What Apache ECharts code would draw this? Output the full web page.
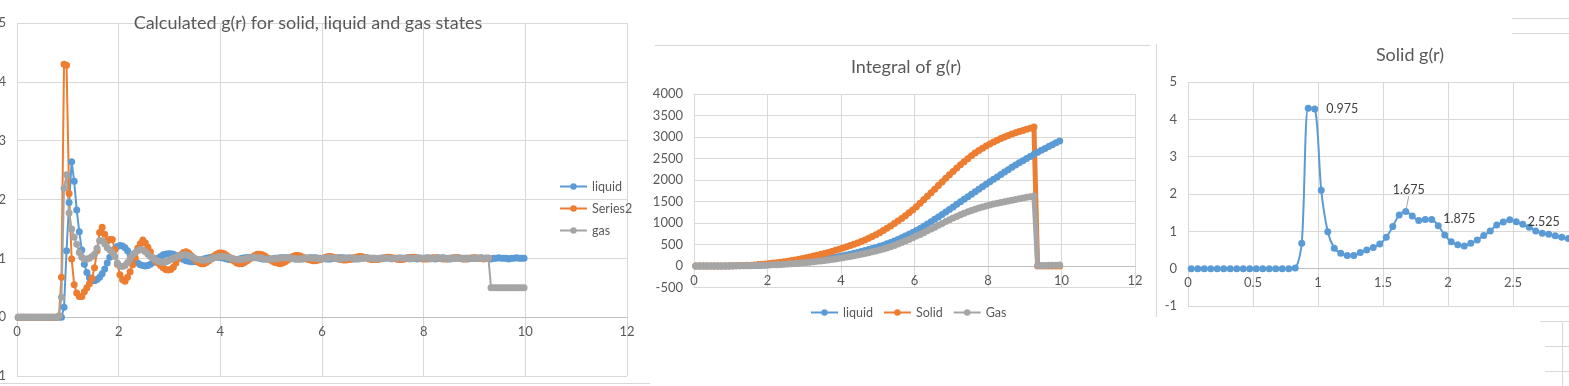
<!DOCTYPE html>
<html><head><meta charset="utf-8">
<script src="https://cdn.jsdelivr.net/npm/echarts@6/dist/echarts.min.js"></script>
<style>html,body{margin:0;padding:0;background:#fff}#c{width:1569px;height:386px}</style>
</head><body><div id="c"></div><script>
// sampling grid of g(r): r = 0.025, 0.075, ... (one row = one unit of r)
const R_START = 0.025, R_STEP = 0.05;
// sampling grid of the integral: r = 0.05, 0.15, ...
const I_START = 0.05, I_STEP = 0.1;

const liquidG = [
0,0,0,0,0,0,0,0,0,0,0,0,0,0,0,0,0,0,0.17,1.13,
1.95,2.64,2.31,1.82,1.45,1.14,0.90,0.76,0.67,0.63,0.62,0.64,0.68,0.74,0.82,0.92,1.02,1.10,1.16,1.20,
1.22,1.21,1.18,1.13,1.07,1.01,0.96,0.92,0.89,0.88,0.87,0.88,0.90,0.93,0.97,1.00,1.03,1.06,1.07,1.08,
1.08,1.07,1.05,1.03,1.00,0.98,0.96,0.95,0.94,0.94,0.95,0.96,0.97,0.99,1.00,1.01,1.02,1.02,1.02,1.02,
1.01,1.00,0.99,0.98,0.98,0.98,0.98,0.99,1.00,1.01,1.01,1.02,1.02,1.01,1.01,1.00,0.99,0.99,0.99,0.99,
0.99,1.00,1.00,1.01,1.01,1.01,1.01,1.00,1.00,0.99,0.99,0.99,0.99,1.00,1.00,1.01,1.01,1.01,1.00,1.00,
1.00,0.99,0.99,0.99,1.00,1.00,1.01,1.01,1.01,1.00,1.00,0.99,0.99,0.99,1.00,1.00,1.01,1.01,1.00,1.00,
1.00,0.99,0.99,1.00,1.00,1.01,1.01,1.00,1.00,0.99,0.99,1.00,1.00,1.01,1.01,1.00,1.00,0.99,1.00,1.00,
1.00,1.01,1.00,1.00,0.99,1.00,1.00,1.01,1.00,1.00,0.99,1.00,1.00,1.01,1.00,1.00,1.00,0.99,1.00,1.00,
1.00,1.00,1.01,1.00,1.00,1.00,0.99,1.00,1.00,1.01,1.00,1.00,1.00,0.99,1.00,1.00,1.01,1.00,1.00,1.00
];
const solidG = [
0,0,0,0,0,0,0,0,0,0,0,0,0,0,0,0,0.02,0.68,4.30,4.28,
2.10,0.99,0.55,0.41,0.35,0.35,0.43,0.50,0.57,0.66,0.84,1.13,1.44,1.53,1.41,1.29,1.32,1.32,1.15,0.90,
0.72,0.64,0.61,0.68,0.77,0.89,1.01,1.17,1.25,1.31,1.26,1.19,1.11,1.01,0.95,0.92,0.88,0.84,0.81,0.80,
0.81,0.85,0.92,1.00,1.06,1.10,1.11,1.09,1.05,1.00,0.96,0.93,0.91,0.91,0.93,0.96,1.00,1.04,1.07,1.09,
1.09,1.08,1.05,1.02,0.98,0.95,0.92,0.91,0.91,0.93,0.96,0.99,1.02,1.05,1.07,1.07,1.06,1.04,1.01,0.98,
0.95,0.93,0.92,0.91,0.92,0.94,0.97,1.00,1.03,1.05,1.05,1.04,1.02,1.00,0.98,0.97,0.96,0.96,0.97,0.98,
1.00,1.02,1.03,1.03,1.02,1.01,0.99,0.98,0.97,0.97,0.98,0.99,1.01,1.02,1.03,1.03,1.02,1.01,0.99,0.98,
0.98,0.98,0.99,1.00,1.01,1.02,1.02,1.01,1.00,0.99,0.98,0.98,0.99,1.00,1.01,1.02,1.02,1.01,1.00,0.99,
0.99,0.99,1.00,1.01,1.01,1.01,1.00,0.99,0.99,0.99,1.00,1.01,1.01,1.01,1.00,0.99,0.99,1.00,1.00,1.01,
1.01,1.00,1.00,0.99,1.00,1.00
];
const gasG = [
0,0,0,0,0,0,0,0,0,0,0,0,0,0,0,0,0.02,0.34,2.19,2.42,
1.77,1.50,1.36,1.24,1.10,1.02,0.99,0.99,1.00,1.03,1.07,1.17,1.30,1.30,1.25,1.18,1.14,1.10,1.03,0.92,
0.87,0.86,0.88,0.93,1.00,1.06,1.10,1.13,1.15,1.14,1.11,1.07,1.03,1.00,0.97,0.95,0.94,0.93,0.94,0.96,
0.98,1.00,1.02,1.04,1.05,1.06,1.06,1.05,1.03,1.01,0.99,0.98,0.97,0.97,0.97,0.98,0.99,1.01,1.02,1.03,
1.03,1.03,1.02,1.01,1.00,0.99,0.98,0.98,0.98,0.99,1.00,1.01,1.01,1.02,1.01,1.01,1.00,0.99,0.99,0.99,
0.99,0.99,1.00,1.00,1.01,1.01,1.01,1.00,1.00,0.99,0.99,0.99,1.00,1.00,1.01,1.01,1.00,1.00,1.00,0.99,
1.00,1.00,1.01,1.01,1.00,1.00,0.99,0.99,1.00,1.00,1.01,1.01,1.00,1.00,0.99,1.00,1.00,1.01,1.00,1.00,
1.00,0.99,1.00,1.00,1.01,1.00,1.00,0.99,1.00,1.00,1.01,1.00,1.00,1.00,0.99,1.00,1.00,1.01,1.00,1.00,
1.00,1.00,0.99,1.00,1.00,1.01,1.00,1.00,1.00,0.99,1.00,1.00,1.01,1.00,1.00,0.99,1.00,1.00,1.00,1.00,
1.00,1.00,1.00,1.00,1.00,1.00,0.50,0.50,0.50,0.50,0.50,0.50,0.50,0.50,0.50,0.50,0.50,0.50,0.50,0.50
];

const liquidInt = [
0,0,0,0,0,0,0,0,0,0,
1,3,5,6,7,8,10,13,17,22,
28,34,40,46,52,58,65,73,82,92,
102,113,124,135,147,160,174,189,205,222,
240,258,276,295,315,336,358,381,405,430,
457,485,515,547,581,617,655,695,737,781,
827,875,925,977,1031,1086,1142,1199,1257,1316,
1375,1434,1493,1552,1611,1670,1728,1786,1843,1900,
1958,2015,2072,2129,2185,2240,2294,2347,2399,2450,
2500,2549,2597,2644,2690,2735,2779,2822,2864,2905
];
const solidInt = [
0,0,0,0,0,0,0,0,0,1,
3,6,9,12,15,19,25,32,40,49,
58,67,77,88,100,113,127,142,158,175,
193,211,230,250,271,293,316,340,365,391,
418,446,475,505,537,571,607,645,685,727,
775,825,877,931,987,1045,1106,1170,1236,1304,
1380,1458,1538,1620,1703,1787,1871,1955,2038,2120,
2200,2278,2354,2427,2497,2563,2626,2685,2740,2792,
2840,2885,2927,2966,3002,3036,3068,3098,3126,3153,
3180,3206,3232,0,0,0,0,0,0,0
];
const gasInt = [
0,0,0,0,0,0,0,0,1,3,
5,7,8,9,10,11,13,15,17,20,
23,27,31,35,40,46,52,59,66,74,
82,90,99,108,118,129,140,152,165,178,
192,207,222,238,255,273,291,310,330,350,
370,395,421,449,479,511,545,581,618,656,
695,735,776,818,861,904,947,990,1032,1073,
1115,1154,1191,1226,1259,1290,1319,1346,1372,1396,
1418,1439,1459,1478,1496,1514,1531,1548,1564,1580,
1596,1612,1628,10,12,14,16,18,20,22
];

const LABELLED_R = [0.975, 1.675, 1.875, 2.525];
const TITLES = ['Calculated g(r) for solid, liquid and gas states', 'Integral of g(r)', 'Solid g(r)'];
const LEGEND1 = ['liquid', 'Series2', 'gas'];
const LEGEND2 = ['liquid', 'Solid', 'Gas'];

const BLUE = '#5B9BD5', ORANGE = '#ED7D31', GRAY = '#A5A5A5';
const FONT = 'Lato, "Liberation Sans", sans-serif';
const TXT = '#595959';

const gPairs = arr => arr.map((v, i) => [+(R_START + i * R_STEP).toFixed(3), v]);
const iPairs = arr => arr.map((v, i) => [+(I_START + i * I_STEP).toFixed(2), v]);

const solidMain = gPairs(solidG).map(p => {
  const item = { value: p };
  if (LABELLED_R.indexOf(p[0]) >= 0) {
    const top = p[0] === 1.675;
    item.label = {
      show: true, formatter: String(p[0]), position: top ? 'top' : 'right',
      distance: top ? 6 : 8, color: '#404040', fontSize: 12.5, fontFamily: FONT
    };
    if (top) item.labelLine = { show: true, lineStyle: { color: '#a6a6a6', width: 1 } };
  }
  return item;
});

const axisLbl = { color: TXT, fontSize: 13, fontFamily: FONT, formatter: v => String(v) };
const split = { show: true, lineStyle: { color: '#d9d9d9', width: 1 } };
function xAx(gi, max, interval, zeroOffset) {
  return { gridIndex: gi, type: 'value', min: 0, max: max, interval: interval, position: 'bottom',
    offset: -zeroOffset,
    axisLine: { show: true, onZero: false, lineStyle: { color: '#bfbfbf' } },
    axisTick: { show: false }, splitLine: split,
    axisLabel: Object.assign({ margin: 8 }, axisLbl) };
}
function yAx(gi, min, max, interval) {
  return { gridIndex: gi, type: 'value', min: min, max: max, interval: interval,
    axisLine: { show: false }, axisTick: { show: false }, splitLine: split,
    axisLabel: Object.assign({ margin: 11 }, axisLbl) };
}
function ln(name, data, color, gi, size, width, extra) {
  return Object.assign({ type: 'line', name: name, data: data, xAxisIndex: gi, yAxisIndex: gi,
    symbol: 'circle', symbolSize: size, color: color,
    lineStyle: { width: width, color: color }, itemStyle: { color: color },
    animation: false, clip: true }, extra || {});
}

const G = [
  { left: 17, top: 23, width: 610, height: 353, outerBoundsMode: 'none', containLabel: false },
  { left: 694, top: 94, width: 441, height: 193.5, outerBoundsMode: 'none', containLabel: false },
  { left: 1188, top: 82, width: 390, height: 224, outerBoundsMode: 'none', containLabel: false }
];

const chart = echarts.init(document.getElementById('c'), null, { renderer: 'canvas' });
const titleStyle = { color: TXT, fontSize: 18, fontWeight: 'normal', fontFamily: FONT };
const legText = { color: TXT, fontSize: 12.5, fontFamily: FONT };
const lineColor = '#d9d9d9';
const deco = (x1, y1, x2, y2) => ({ type: 'line', silent: true, shape: { x1, y1, x2, y2 }, style: { stroke: lineColor, lineWidth: 1 } });
chart.setOption({
  backgroundColor: '#fff',
  animation: false,
  title: [
    { text: TITLES[0], left: 308, top: 14, textAlign: 'center', padding: 0, textStyle: titleStyle },
    { text: TITLES[1], left: 906, top: 58, textAlign: 'center', padding: 0, textStyle: titleStyle },
    { text: TITLES[2], left: 1410, top: 46, textAlign: 'center', padding: 0, textStyle: titleStyle }
  ],
  legend: [
    { data: LEGEND1, orient: 'vertical', left: 559, top: 180, padding: 0, itemWidth: 27, itemHeight: 8,
      itemGap: 9, textStyle: legText, lineStyle: { width: 2 } },
    { data: LEGEND2, orient: 'horizontal', left: 810, top: 306, padding: 0, itemWidth: 27, itemHeight: 8,
      itemGap: 10, textStyle: legText, lineStyle: { width: 2 } }
  ],
  grid: G,
  xAxis: [xAx(0, 12, 2, 353 / 6), xAx(1, 12, 2, 193.5 / 9), xAx(2, 3, 0.5, 224 / 6)],
  yAxis: [yAx(0, -1, 5, 1), yAx(1, -500, 4000, 500), yAx(2, -1, 5, 1)],
  series: [
    ln('liquid', gPairs(liquidG), BLUE, 0, 7, 2),
    ln('Series2', gPairs(solidG), ORANGE, 0, 7, 2),
    ln('gas', gPairs(gasG), GRAY, 0, 7, 2),
    ln('liquid', iPairs(liquidInt), BLUE, 1, 7, 5),
    ln('Solid', iPairs(solidInt), ORANGE, 1, 7, 5),
    ln('Gas', iPairs(gasInt), GRAY, 1, 7, 5),
    ln('Solid g(r)', solidMain, BLUE, 2, 7, 2, {
      smooth: 0.3,
      labelLayout: function (p) { return p.dataIndex === 33 ? { dx: 3, dy: -6 } : {}; }
    })
  ],
  graphic: [
    deco(0, 383.5, 650, 383.5),
    deco(655, 45.5, 1150, 45.5),
    deco(1156.5, 44, 1156.5, 317),
    deco(1512, 18.5, 1569, 18.5),
    deco(1512, 33.5, 1569, 33.5),
    deco(1540, 321.5, 1569, 321.5),
    deco(1545, 346.5, 1569, 346.5),
    deco(1545, 371.5, 1569, 371.5),
    deco(1562.5, 322, 1562.5, 386)
  ]
});
</script></body></html>
